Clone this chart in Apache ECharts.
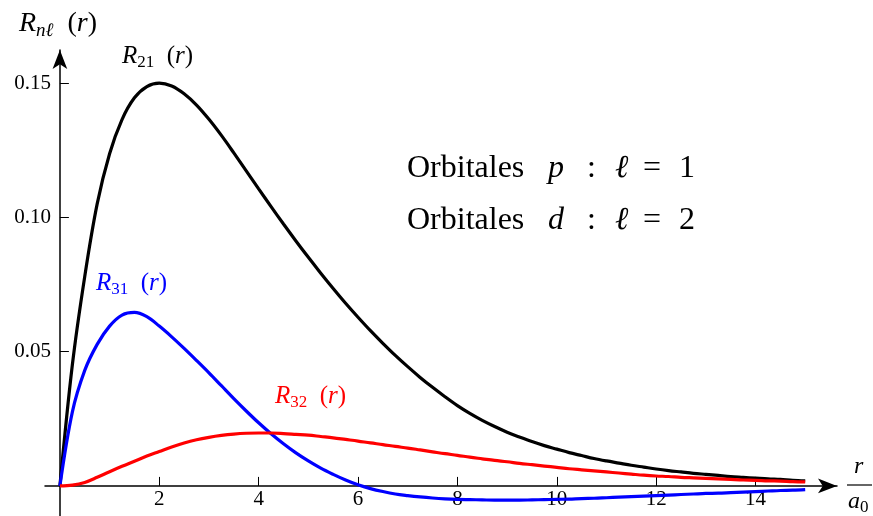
<!DOCTYPE html>
<html>
<head>
<meta charset="utf-8">
<script src="https://cdn.jsdelivr.net/npm/echarts@6.0.0/dist/echarts.min.js"></script>
<style>
  html, body { margin: 0; padding: 0; background: #fff; }
  #chart { width: 873px; height: 516px; }
</style>
</head>
<body>
<div id="chart"></div>
<script>
const rValues = [0, 0.25, 0.5, 0.75, 1, 1.25, 1.5, 1.75, 2, 2.25, 2.5, 2.75, 3, 3.25, 3.5, 3.75,
  4, 4.25, 4.5, 4.75, 5, 5.25, 5.5, 5.75, 6, 6.25, 6.5, 6.75, 7, 7.25, 7.5, 7.75,
  8, 8.25, 8.5, 8.75, 9, 9.25, 9.5, 9.75, 10, 10.25, 10.5, 10.75, 11, 11.25, 11.5, 11.75,
  12, 12.25, 12.5, 12.75, 13, 13.25, 13.5, 13.75, 14, 14.25, 14.5, 14.75, 15];
// R21 (black)
const r21 = [0, 0.045, 0.078, 0.105, 0.1237, 0.1364, 0.1445, 0.1487, 0.150, 0.1489, 0.146, 0.1418, 0.1365, 0.1305, 0.124, 0.1173,
  0.1106, 0.1040, 0.0975, 0.0912, 0.0851, 0.0792, 0.0735, 0.0680, 0.0628, 0.0578, 0.0531, 0.0486, 0.0444, 0.0404, 0.0367, 0.0332,
  0.0299, 0.0270, 0.0244, 0.0221, 0.0200, 0.0182, 0.0165, 0.0150, 0.0137, 0.0124, 0.0113, 0.0102, 0.0093, 0.0085, 0.0077, 0.0070,
  0.0063, 0.0057, 0.0052, 0.0047, 0.0043, 0.0039, 0.0035, 0.0032, 0.0029, 0.0026, 0.0024, 0.0021, 0.0019];
// R31 (blue)
const r31 = [0, 0.0275, 0.0430, 0.0527, 0.0595, 0.0636, 0.0646, 0.0630, 0.0595, 0.0555, 0.0512, 0.0467, 0.0421, 0.0373, 0.0325, 0.0279,
  0.0235, 0.0194, 0.0157, 0.0123, 0.0093, 0.0066, 0.0043, 0.0022, 0.0004, -0.0010, -0.0021, -0.0030, -0.0036, -0.0041, -0.0045, -0.0048,
  -0.0050, -0.0051, -0.0052, -0.0053, -0.0053, -0.0053, -0.0052, -0.0051, -0.0050, -0.0049, -0.0047, -0.0046, -0.0044, -0.0042, -0.0040, -0.0038,
  -0.0036, -0.0034, -0.0032, -0.0030, -0.0028, -0.0027, -0.0025, -0.0023, -0.0021, -0.0019, -0.0017, -0.0016, -0.0014];
// R32 (red)
const r32 = [0, 0.0003, 0.0013, 0.0032, 0.0053, 0.0073, 0.0092, 0.0111, 0.0128, 0.0145, 0.0160, 0.0172, 0.0181, 0.0188, 0.0193, 0.0196,
  0.0197, 0.0197, 0.0195, 0.0192, 0.0189, 0.0184, 0.0179, 0.0173, 0.0167, 0.0160, 0.0154, 0.0147, 0.0141, 0.0134, 0.0127, 0.0120,
  0.0114, 0.0107, 0.0101, 0.0095, 0.0090, 0.0084, 0.0079, 0.0074, 0.0069, 0.0064, 0.0060, 0.0056, 0.0052, 0.0048, 0.0044, 0.0040,
  0.0037, 0.0035, 0.0032, 0.0030, 0.0028, 0.0026, 0.0024, 0.0022, 0.0021, 0.0019, 0.0018, 0.0016, 0.0015];

const xTicks = [2, 4, 6, 8, 10, 12, 14];
const yTicks = [0.05, 0.10, 0.15];

const serif = '"Liberation Serif", "DejaVu Serif", serif';

const pairs = (ys) => rValues.map((r, i) => [r, ys[i]]);

// rich styles for the R_xx (r) labels
const mathRich = (color, size, subSize) => ({
  i: { fontFamily: serif, fontStyle: 'italic', fontSize: size, lineHeight: size + 5, fill: color },
  n: { fontFamily: serif, fontSize: size, lineHeight: size + 5, fill: color },
  s: { fontFamily: serif, fontSize: subSize, lineHeight: subSize, verticalAlign: 'bottom', fill: color },
  si: { fontFamily: serif, fontStyle: 'italic', fontSize: subSize, lineHeight: subSize, verticalAlign: 'bottom', fill: color }
});

const txt = (left, top, text, rich) => ({
  type: 'text', left, top, z: 100,
  style: { text, rich, fill: '#000', fontFamily: serif }
});

// one word of the "Orbitales ..." lines
const word = (left, top, text, italic) => ({
  type: 'text', left, top, z: 100,
  style: { text, fill: '#000', fontFamily: serif, fontSize: 32, fontStyle: italic ? 'italic' : 'normal' }
});

const chart = echarts.init(document.getElementById('chart'), null, { renderer: 'canvas' });

const axisFont = { fontFamily: serif, fontSize: 21, color: '#000' };

const option = {
  animation: false,
  backgroundColor: '#fff',
  grid: { left: 45, right: 36, top: 50, bottom: 0, outerBoundsMode: 'none' },
  xAxis: {
    type: 'value',
    min: -0.3,
    max: 15.64,
    axisLine: { onZero: true, symbol: ['none', 'arrow'], symbolSize: [11, 19], lineStyle: { color: '#000', width: 1.5 } },
    axisTick: { inside: true, length: 9, customValues: xTicks, lineStyle: { color: '#000', width: 1 } },
    // labels stay on the grid edge, pull them up under the zero line
    axisLabel: { customValues: xTicks, margin: -27, ...axisFont },
    splitLine: { show: false }
  },
  yAxis: {
    type: 'value',
    min: -0.0112,
    max: 0.1623,
    axisLine: { onZero: true, symbol: ['none', 'arrow'], symbolSize: [11, 19], lineStyle: { color: '#000', width: 1.5 } },
    axisTick: { inside: true, length: 9, customValues: yTicks, lineStyle: { color: '#000', width: 1 } },
    axisLabel: { customValues: yTicks, margin: -6, formatter: (v) => v.toFixed(2), ...axisFont },
    splitLine: { show: false }
  },
  series: [
    { name: 'R21', type: 'line', data: pairs(r21), smooth: 0.35, symbol: 'none', lineStyle: { color: '#000', width: 3.2 }, z: 3 },
    { name: 'R31', type: 'line', data: pairs(r31), smooth: 0.35, symbol: 'none', lineStyle: { color: '#0000ff', width: 3.2 }, z: 4 },
    { name: 'R32', type: 'line', data: pairs(r32), smooth: 0.35, symbol: 'none', lineStyle: { color: '#ff0000', width: 3.2 }, z: 5 }
  ],
  graphic: [
    txt(19, 10, '{i|R}{si|nℓ}{n|  (}{i|r}{n|)}', mathRich('#000', 28, 19)),
    txt(122, 44, '{i|R}{s|21}{n|  (}{i|r}{n|)}', mathRich('#000', 25, 17)),
    txt(96, 271, '{i|R}{s|31}{n|  (}{i|r}{n|)}', mathRich('#0000ff', 25, 17)),
    txt(275, 384, '{i|R}{s|32}{n|  (}{i|r}{n|)}', mathRich('#ff0000', 25, 17)),
    word(407, 153, 'Orbitales'), word(548, 153, 'p', true), word(587, 153, ':'),
    word(615, 153, 'ℓ', true), word(643, 153, '='), word(679, 153, '1'),
    word(407, 205, 'Orbitales'), word(548, 205, 'd', true), word(587, 205, ':'),
    word(615, 205, 'ℓ', true), word(643, 205, '='), word(679, 205, '2'),
    // axis name r / a0
    txt(854, 455, '{i|r}', mathRich('#000', 24, 17)),
    { type: 'line', z: 100, shape: { x1: 847, y1: 485, x2: 872, y2: 485 }, style: { stroke: '#000', lineWidth: 1.2 } },
    txt(848, 490, '{i|a}{s|0}', mathRich('#000', 24, 17))
  ]
};

chart.setOption(option);
</script>
</body>
</html>
